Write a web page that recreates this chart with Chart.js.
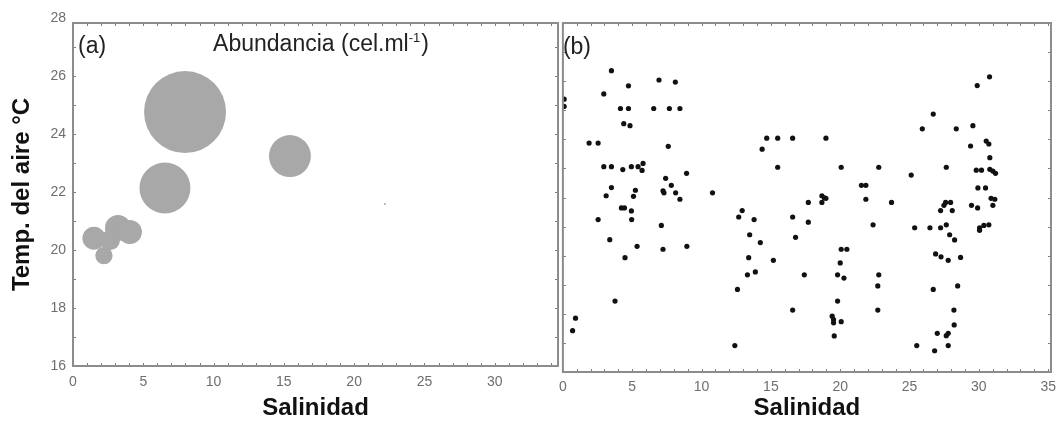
<!DOCTYPE html>
<html>
<head>
<meta charset="utf-8">
<script src="https://cdn.jsdelivr.net/npm/chart.js@4.4.0/dist/chart.umd.min.js"></script>
<style>
  html, body { margin: 0; padding: 0; background: #fff; }
  #wrap { position: relative; width: 1062px; height: 421px; overflow: hidden; }
  canvas { position: absolute; top: 0; }
  #chartA { left: 0; width: 562px; height: 421px; }
  #chartB { left: 552px; width: 511px; height: 421px; }
</style>
</head>
<body>
<div id="wrap">
  <canvas id="chartA" width="562" height="421"></canvas>
  <canvas id="chartB" width="511" height="421"></canvas>
</div>
<script>
const FONT = '"Liberation Sans", Arial, Helvetica, sans-serif';

// tick labels
const xTicks = [0, 5, 10, 15, 20, 25, 30, 35];
const yTicksA = [16, 18, 20, 22, 24, 26, 28];

// panel (a): bubbles, size = abundancia
const salinidadA = [7.97, 15.43, 6.54, 1.49, 2.2, 3.2, 4.05, 2.63, 22.19];
const tempA = [24.76, 23.24, 22.14, 20.41, 19.81, 20.76, 20.62, 20.34, 21.59];
const abundanciaA = [1680, 440, 650, 132, 75, 169, 144, 100, 1];

// panel (b): salinidad vs temperatura
const salinidadB = [
  3.50, 6.93, 8.11, 4.73, 2.95, 0.09, 0.09, 4.15, 4.73, 6.55,
  7.68, 8.44, 4.39, 4.84, 1.89, 2.54, 7.60, 2.95, 3.50, 4.32,
  4.94, 5.42, 5.78, 5.71, 8.92, 7.41, 7.82, 3.50, 3.12, 5.23,
  5.09, 7.22, 7.29, 8.13, 8.44, 10.79, 4.22, 4.44, 4.94, 2.54,
  4.96, 7.10, 3.38, 5.35, 7.22, 8.94, 4.48, 3.76, 0.91, 0.70,
  14.70, 15.49, 16.57, 18.97, 14.37, 15.49, 20.07, 22.78, 25.12, 21.53,
  21.85, 18.68, 18.85, 18.68, 18.97, 21.85, 23.70, 17.70, 12.93, 12.68,
  13.79, 16.57, 17.70, 22.37, 13.47, 14.24, 16.78, 20.07, 20.48, 13.40,
  15.18, 20.00, 13.31, 13.88, 17.41, 19.81, 20.27, 22.78, 22.71, 12.59,
  19.81, 16.57, 22.71, 19.42, 19.52, 19.52, 20.07, 19.57, 12.40,
  26.71, 25.92, 28.37, 29.57, 29.40, 30.53, 30.72, 30.79, 27.65, 29.81,
  30.19, 30.79, 31.01, 31.20, 29.93, 30.48, 27.60, 27.96, 27.48, 27.24,
  28.08, 30.88, 31.15, 31.01, 29.47, 29.91, 27.65, 25.37, 26.47, 27.24,
  27.89, 28.25, 30.05, 30.05, 30.36, 30.72, 26.88, 27.27, 27.79, 28.68,
  26.71, 28.47, 28.20, 28.22, 27.00, 27.65, 27.79, 25.52, 26.81, 27.79,
  29.88, 30.77
];
const tempB = [
  26.36, 26.04, 25.97, 25.84, 25.56, 25.38, 25.13, 25.06, 25.06, 25.06,
  25.06, 25.06, 24.54, 24.47, 23.87, 23.87, 23.76, 23.06, 23.06, 22.96,
  23.06, 23.06, 23.17, 22.93, 22.83, 22.66, 22.42, 22.34, 22.06, 22.25,
  22.04, 22.23, 22.16, 22.16, 21.94, 22.16, 21.64, 21.64, 21.54, 21.24,
  21.24, 21.04, 20.55, 20.32, 20.22, 20.32, 19.93, 18.44, 17.85, 17.42,
  24.04, 24.04, 24.04, 24.04, 23.66, 23.04, 23.04, 23.04, 22.77, 22.42,
  22.42, 22.06, 21.99, 21.83, 21.97, 21.94, 21.83, 21.83, 21.55, 21.33,
  21.24, 21.33, 21.15, 21.06, 20.72, 20.45, 20.63, 20.22, 20.22, 19.93,
  19.84, 19.75, 19.34, 19.44, 19.34, 19.34, 19.23, 19.34, 18.96, 18.84,
  18.44, 18.13, 18.13, 17.92, 17.80, 17.69, 17.73, 17.24, 16.91,
  24.87, 24.36, 24.36, 24.47, 23.77, 23.94, 23.84, 23.37, 23.04, 22.94,
  22.94, 22.97, 22.91, 22.83, 22.33, 22.33, 21.83, 21.83, 21.73, 21.55,
  21.55, 21.97, 21.94, 21.73, 21.73, 21.64, 21.06, 20.96, 20.96, 20.96,
  20.72, 20.54, 20.96, 20.87, 21.04, 21.06, 20.06, 19.96, 19.84, 19.94,
  18.84, 18.96, 18.13, 17.62, 17.33, 17.25, 17.33, 16.91, 16.73, 16.91,
  25.85, 26.15
];

// bubble controller that does not push the plot area in for its big bubbles
class FlatBubble extends Chart.BubbleController {
  getMaxOverflow() { return 0; }
}
FlatBubble.id = 'flatBubble';
FlatBubble.defaults = Chart.BubbleController.defaults;
FlatBubble.overrides = Chart.BubbleController.overrides;
Chart.register(FlatBubble);

// gray frame with small inner tick marks on all four sides
const framePlugin = {
  id: 'frame',
  afterDraw(chart) {
    const { ctx, chartArea: a, scales } = chart;
    const x = scales.x, y = scales.y;
    ctx.save();
    ctx.strokeStyle = '#7a7a7a';
    ctx.lineWidth = 1;
    ctx.beginPath();
    for (let v = Math.ceil(x.min); v <= x.max; v++) {
      const px = Math.round(x.getPixelForValue(v)) + 0.5;
      ctx.moveTo(px, a.top); ctx.lineTo(px, a.top + 3);
      ctx.moveTo(px, a.bottom); ctx.lineTo(px, a.bottom - 3);
    }
    for (let v = Math.ceil(y.min); v <= y.max; v++) {
      const py = Math.round(y.getPixelForValue(v)) + 0.5;
      ctx.moveTo(a.left, py); ctx.lineTo(a.left + 3, py);
      ctx.moveTo(a.right, py); ctx.lineTo(a.right - 3, py);
    }
    ctx.stroke();
    ctx.lineWidth = 2;
    ctx.strokeStyle = '#8c8c8c';
    ctx.strokeRect(a.left, a.top, a.right - a.left, a.bottom - a.top);
    ctx.restore();
  }
};

// panel letter and the heading of panel (a)
const panelText = {
  id: 'panelText',
  afterDraw(chart, args, opts) {
    const { ctx, chartArea: a } = chart;
    ctx.save();
    ctx.fillStyle = '#222';
    ctx.textBaseline = 'alphabetic';
    ctx.textAlign = 'left';
    ctx.font = '23px ' + FONT;
    ctx.fillText(opts.label, a.left + opts.labelDx, opts.labelY);
    if (opts.title) {
      const big = '23px ' + FONT, small = '13px ' + FONT;
      ctx.font = big;
      const w1 = ctx.measureText(opts.title).width;
      const w3 = ctx.measureText(')').width;
      ctx.font = small;
      const w2 = ctx.measureText(opts.sup).width + 1;
      let sx = opts.titleX - (w1 + w2 + w3) / 2;
      ctx.font = big;
      ctx.fillText(opts.title, sx, opts.titleY);
      ctx.font = small;
      ctx.fillText(opts.sup, sx + w1, opts.titleY - 9);
      ctx.font = big;
      ctx.fillText(')', sx + w1 + w2, opts.titleY);
    }
    ctx.restore();
  }
};

const tickFont = { size: 14, family: FONT };
const tickColor = '#6e6e6e';
const axisTitle = (text, pad) => ({
  display: true, text: text, color: '#111',
  font: { size: 24, weight: 'bold', family: FONT, lineHeight: 1 },
  padding: pad
});

new Chart(document.getElementById('chartA'), {
  type: 'flatBubble',
  data: {
    datasets: [{
      data: salinidadA.map((s, i) => ({ x: s, y: tempA[i], r: Math.sqrt(abundanciaA[i]) })),
      backgroundColor: '#a8a8a8',
      borderWidth: 0,
      hoverBorderWidth: 0
    }]
  },
  options: {
    responsive: false,
    animation: false,
    events: [],
    layout: { padding: { left: 0, top: 23, right: 4, bottom: 0 } },
    plugins: {
      legend: { display: false },
      tooltip: { enabled: false },
      panelText: { label: '(a)', labelDx: 5, labelY: 53, title: 'Abundancia (cel.ml', sup: '-1', titleX: 321, titleY: 51 }
    },
    scales: {
      x: {
        type: 'linear', min: 0, max: 34.5,
        grid: { display: false, drawTicks: false },
        border: { display: false },
        ticks: { color: tickColor, font: tickFont, padding: 8, autoSkip: false, maxRotation: 0 },
        afterBuildTicks: s => { s.ticks = xTicks.filter(v => v <= s.max).map(v => ({ value: v })); },
        afterFit: s => { s.height = 55; },
        title: axisTitle('Salinidad', { top: 0, bottom: 1 })
      },
      y: {
        type: 'linear', min: 16, max: 27.83,
        grid: { display: false, drawTicks: false },
        border: { display: false },
        ticks: { color: tickColor, font: tickFont, padding: 7 },
        afterBuildTicks: s => { s.ticks = yTicksA.map(v => ({ value: v })); },
        afterFit: s => { s.width = 73; },
        title: axisTitle('Temp. del aire °C', { top: 10, bottom: 0 })
      }
    }
  },
  plugins: [framePlugin, panelText]
});

new Chart(document.getElementById('chartB'), {
  type: 'scatter',
  data: {
    datasets: [{
      data: salinidadB.map((s, i) => ({ x: s, y: tempB[i] })),
      pointRadius: 2.6,
      pointHoverRadius: 2.6,
      pointBackgroundColor: '#111',
      pointBorderWidth: 0
    }]
  },
  options: {
    responsive: false,
    animation: false,
    events: [],
    layout: { padding: { left: 0, top: 23, right: 11, bottom: 0 } },
    plugins: {
      legend: { display: false },
      tooltip: { enabled: false },
      panelText: { label: '(b)', labelDx: 0, labelY: 54 }
    },
    scales: {
      x: {
        type: 'linear', min: 0, max: 35.2,
        grid: { display: false, drawTicks: false },
        border: { display: false },
        ticks: { color: tickColor, font: tickFont, padding: 7, autoSkip: false, maxRotation: 0 },
        afterBuildTicks: s => { s.ticks = xTicks.map(v => ({ value: v })); },
        afterFit: s => { s.height = 49; },
        title: axisTitle('Salinidad', { top: 0, bottom: 1 })
      },
      y: { type: 'linear', display: false, min: 16, max: 28 }
    }
  },
  plugins: [framePlugin, panelText]
});
</script>
</body>
</html>
